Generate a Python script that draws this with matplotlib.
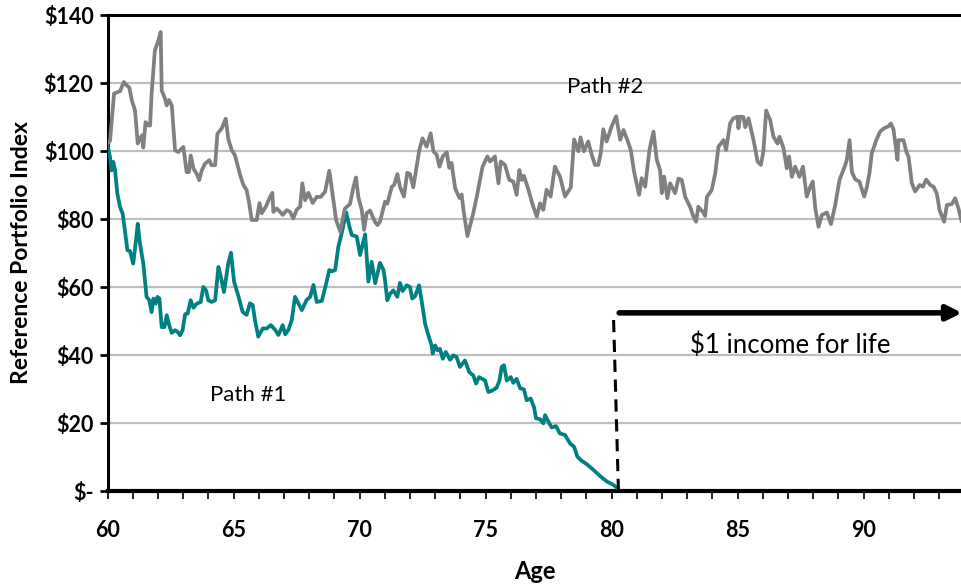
import matplotlib
matplotlib.use("Agg")
import matplotlib.pyplot as plt
from matplotlib.ticker import MultipleLocator, FixedLocator

plt.rcParams['font.family'] = ['Lato', 'DejaVu Sans']

# Path #2 (gray) - age, index value
path2_age = [60.0, 60.1, 60.26, 60.5, 60.65, 60.76, 60.87, 60.96, 61.09, 61.2, 61.29, 61.37, 61.42,
             61.51, 61.62, 61.69, 61.75, 61.88, 62.02, 62.11, 62.15, 62.28, 62.35, 62.44, 62.55,
             62.68, 62.81, 62.94, 63.01, 63.14, 63.23, 63.3, 63.41, 63.54, 63.64, 63.74, 63.87,
             64.04, 64.13, 64.27, 64.36, 64.53, 64.69, 64.79, 64.93, 65.06, 65.26, 65.39, 65.52,
             65.62, 65.72, 65.92, 66.03, 66.12, 66.28, 66.45, 66.54, 66.58, 66.71, 66.85, 66.95,
             67.11, 67.24, 67.37, 67.51, 67.64, 67.73, 67.84, 67.97, 68.14, 68.3, 68.46, 68.63,
             68.8, 68.96, 69.07, 69.23, 69.42, 69.62, 69.76, 69.86, 69.95, 70.09, 70.18, 70.28,
             70.41, 70.61, 70.71, 70.81, 71.01, 71.1, 71.28, 71.37, 71.5, 71.6, 71.76, 71.89,
             72.0, 72.13, 72.24, 72.37, 72.5, 72.66, 72.82, 72.93, 73.06, 73.17, 73.3, 73.46,
             73.56, 73.65, 73.79, 73.96, 74.05, 74.12, 74.28, 74.51, 74.65, 74.78, 74.88, 75.07,
             75.18, 75.37, 75.51, 75.6, 75.77, 75.94, 76.1, 76.23, 76.34, 76.43, 76.52, 76.7,
             76.87, 77.03, 77.16, 77.29, 77.42, 77.58, 77.75, 77.95, 78.15, 78.38, 78.51, 78.68,
             78.77, 78.9, 79.07, 79.21, 79.34, 79.47, 79.57, 79.67, 79.8, 80.0, 80.18, 80.34,
             80.47, 80.6, 80.76, 80.89, 81.09, 81.19, 81.33, 81.5, 81.66, 81.79, 81.92, 81.99,
             82.08, 82.21, 82.32, 82.52, 82.65, 82.78, 82.92, 83.11, 83.25, 83.35, 83.44, 83.64,
             83.71, 83.78, 83.97, 84.11, 84.24, 84.44, 84.54, 84.7, 84.83, 84.99, 85.03, 85.1,
             85.23, 85.3, 85.43, 85.63, 85.79, 85.92, 86.02, 86.13, 86.29, 86.42, 86.58, 86.66,
             86.82, 86.95, 87.04, 87.15, 87.28, 87.45, 87.59, 87.74, 87.88, 87.98, 88.08, 88.21,
             88.34, 88.54, 88.7, 88.87, 89.04, 89.27, 89.33, 89.44, 89.53, 89.66, 89.83, 90.02,
             90.13, 90.23, 90.32, 90.5, 90.65, 90.81, 90.99, 91.08, 91.18, 91.34, 91.38, 91.58,
             91.69, 91.78, 91.91, 92.04, 92.22, 92.35, 92.48, 92.64, 92.77, 92.9, 93.01, 93.19,
             93.3, 93.5, 93.63, 93.76, 93.88]
path2_val = [102.2, 103, 116.9, 117.6, 120.3, 119.3, 118.6, 115, 112, 102.2, 103.6, 104.6, 101,
             108.5, 107.5, 107.5, 116.9, 129.6, 132.5, 135, 117.8, 115.4, 113.4, 115, 113.4,
             100.2, 99.7, 100.7, 101.2, 93.8, 93.8, 98.7, 94.8, 93.3, 91.4, 94.3, 96.3,
             97.3, 95.8, 95.8, 105.1, 106.6, 109.5, 103.6, 100.2, 98.7, 93, 90, 88.5,
             84.7, 79.7, 79.7, 84.7, 81.7, 83.6, 86.5, 87.7, 82.1, 83.1, 82.1, 81.2,
             82.6, 82.1, 80.2, 82.8, 83.6, 90.5, 85.5, 87.7, 84.7, 86.5, 86.5, 88,
             94.2, 85.5, 79.7, 76.3, 83.1, 84.4, 89.5, 92.2, 86.5, 82.6, 76.8, 81.7,
             82.5, 79.2, 78.2, 79.2, 85.1, 84.5, 89.5, 90, 93.2, 89.5, 86.6, 93.6,
             93.2, 89.3, 94.4, 100.3, 103.7, 101.3, 105.2, 99.9, 98.9, 95.4, 98.4, 99.6,
             95, 96.5, 89.1, 86.2, 87.2, 82.7, 75, 81.7, 86.6, 91.5, 95.4, 98.4,
             96.9, 98.4, 90.5, 96.9, 95.9, 91.5, 91, 87.1, 94.4, 91.5, 92.7, 88.6,
             84.1, 80.7, 84.6, 82.7, 88.6, 86.6, 95.4, 92.5, 86.6, 89.3, 103.4, 99.9,
             104, 99.9, 102.8, 98.9, 95.9, 95.9, 99.4, 106.4, 102.8, 107.2, 110.2, 103.3,
             106.2, 103.7, 100.3, 93.9, 87.1, 92, 89.5, 100.3, 105.7, 97.4, 94.4, 87.6,
             92.5, 86.1, 90.5, 87.6, 91.9, 91.5, 86.5, 83.6, 80.6, 79.2, 83.6, 81.9,
             80.9, 86.5, 88.5, 93.4, 101.3, 103.2, 100.3, 108.1, 109.6, 110.1, 106.7, 110.1,
             110, 107, 109.6, 103.2, 96.9, 95.9, 99.8, 111.9, 109.1, 104.2, 102.2, 104.2,
             100.8, 94.9, 98.4, 92.4, 95.4, 92.4, 95.4, 86.6, 89.5, 91, 83.1, 77.7,
             81.2, 81.9, 78.5, 84.1, 91.5, 95.9, 97.4, 103.2, 93.9, 91.7, 91, 86.6,
             89.5, 93.6, 99.3, 103.2, 105.7, 106.7, 107.3, 108.1, 106.4, 97.4, 103.2, 103.2,
             99.8, 98.3, 90.5, 88.1, 90, 89.5, 91.6, 90, 89.5, 87.5, 82.6, 79.2,
             84.1, 84.4, 86.1, 83.1, 79.5]

# Path #1 (teal) - age, index value
path1_age = [60.0, 60.1, 60.16, 60.23, 60.3, 60.39, 60.5, 60.6, 60.69, 60.79, 60.89, 61.02, 61.13,
             61.2, 61.29, 61.42, 61.55, 61.66, 61.75, 61.82, 61.91, 61.98, 62.06, 62.15, 62.26,
             62.35, 62.45, 62.55, 62.68, 62.78, 62.88, 62.98, 63.08, 63.18, 63.3, 63.41, 63.54,
             63.7, 63.8, 63.91, 64.0, 64.13, 64.27, 64.4, 64.5, 64.62, 64.79, 64.9, 65.02,
             65.19, 65.36, 65.52, 65.65, 65.76, 65.85, 65.98, 66.16, 66.32, 66.48, 66.65, 66.78,
             66.95, 67.05, 67.18, 67.31, 67.44, 67.71, 67.9, 68.04, 68.17, 68.3, 68.5, 68.63,
             68.8, 68.9, 69.03, 69.16, 69.29, 69.47, 69.6, 69.69, 69.89, 70.02, 70.22, 70.35,
             70.48, 70.62, 70.81, 70.95, 71.01, 71.1, 71.21, 71.34, 71.5, 71.6, 71.71, 71.87,
             72.0, 72.09, 72.2, 72.36, 72.46, 72.6, 72.73, 72.86, 72.9, 73.0, 73.09, 73.19,
             73.3, 73.42, 73.59, 73.72, 73.85, 73.98, 74.18, 74.35, 74.51, 74.62, 74.74, 74.98,
             75.11, 75.28, 75.44, 75.55, 75.64, 75.73, 75.84, 76.0, 76.1, 76.23, 76.37, 76.52,
             76.63, 76.79, 76.92, 77.0, 77.16, 77.29, 77.36, 77.49, 77.62, 77.79, 77.95, 78.15,
             78.35, 78.51, 78.64, 78.81, 79.01, 79.28, 79.54, 79.81, 80.07, 80.23]
path1_val = [101.7, 98.2, 94.3, 96.8, 94.3, 87.5, 83.5, 81.6, 76.7, 70.8, 70.6, 66.9, 73.7,
             78.6, 72.7, 66.9, 57.1, 56.1, 52.6, 56.6, 55.1, 57.1, 56.6, 48.2, 48.2,
             51.7, 48.7, 46.5, 47.3, 46.8, 45.8, 47.3, 52, 52.2, 56.1, 53.9, 55.1,
             55.6, 60, 59, 56.1, 55.6, 56.1, 65.9, 62.9, 58.5, 66.9, 70.1, 61.6,
             57.4, 52.7, 51.8, 55.2, 54.7, 50.3, 45.4, 47.8, 47.8, 48.8, 47.4, 45.9,
             48.8, 46.1, 47.4, 50.3, 57.1, 53.2, 56.2, 57.1, 60.6, 55.6, 55.9, 59.6,
             65, 64.6, 65, 71.9, 75.8, 81.9, 77.7, 75.3, 74.8, 69.4, 75.5, 61.6,
             67.4, 61.1, 67.1, 65, 62, 56.1, 58, 59, 57.1, 61.2, 58.8, 60.5,
             60, 56.6, 57.3, 60.5, 56.1, 49.2, 45.8, 42.8, 40.4, 42.8, 41.4, 41.8,
             38.9, 40.9, 38.6, 39.9, 39.4, 36.5, 38.4, 35, 34, 31.6, 33.5, 32.5,
             29.1, 29.6, 30.4, 32.5, 36.5, 37, 32.5, 33.5, 31.8, 33, 30.2, 29.9,
             26.7, 27.2, 24.7, 21.4, 21.1, 19.9, 22.3, 20.4, 18.7, 19.1, 16.9, 16.5,
             14, 13, 10.1, 8.9, 7.9, 6.2, 4.4, 2.8, 1.8, 0.8]

y_ticks = [0, 20, 40, 60, 80, 100, 120, 140]
y_labels = ['$-', '$20', '$40', '$60', '$80', '$100', '$120', '$140']
x_ticks = [60, 65, 70, 75, 80, 85, 90]

fig = plt.figure(figsize=(9.62, 5.86), dpi=100)
ax = fig.add_axes([107.5 / 962, 95 / 586, (962 - 107.5) / 962, 476 / 586])

ax.plot(path1_age, path1_val, color='#008080', lw=2.7, zorder=3)
ax.plot(path2_age, path2_val, color='#808080', lw=2.7, zorder=3)

ax.set_xlim(60, 93.9)
ax.set_ylim(0, 140)

# gridlines
ax.set_yticks(y_ticks)
ax.set_yticklabels(y_labels)
ax.yaxis.grid(True, color='#BFBFBF', lw=1.6, zorder=1)
ax.set_axisbelow(True)

ax.xaxis.set_major_locator(FixedLocator(x_ticks))
ax.xaxis.set_minor_locator(MultipleLocator(1))
ax.tick_params(axis='x', which='both', direction='out', length=6, width=1.2, pad=15,
               labelsize=15.5)
ax.tick_params(axis='y', direction='out', length=6, width=2, pad=4, labelsize=15.5)
for lab in ax.get_xticklabels() + ax.get_yticklabels():
    lab.set_fontweight('bold')

for side in ['left', 'top']:
    ax.spines[side].set_linewidth(2.2)
ax.spines['bottom'].set_linewidth(3)
ax.spines['right'].set_visible(False)

ax.set_xlabel('Age', fontsize=17, fontweight='bold')
ax.xaxis.set_label_coords(0.5, -0.145)
ax.set_ylabel('Reference Portfolio Index', fontsize=16.5, fontweight='bold')
ax.yaxis.set_label_coords(-0.088, 0.5)

# annuity annotation
ax.plot([80.27, 80.07], [0, 52.4], color='black', lw=2.2, dashes=(4, 2.5), zorder=4)
ax.annotate('', xy=(93.9, 52.4), xytext=(80.3, 52.4),
            arrowprops=dict(arrowstyle='-|>', color='black', lw=4, mutation_scale=22,
                            shrinkA=0, shrinkB=0), annotation_clip=False, zorder=4)
ax.text(87.08, 42.9, '$1 income for life', fontsize=18.5, ha='center', va='center')
ax.text(65.58, 28.2, 'Path #1', fontsize=16, ha='center', va='center')
ax.text(79.76, 118.8, 'Path #2', fontsize=16, ha='center', va='center')

fig.savefig('out.png', dpi=100)
